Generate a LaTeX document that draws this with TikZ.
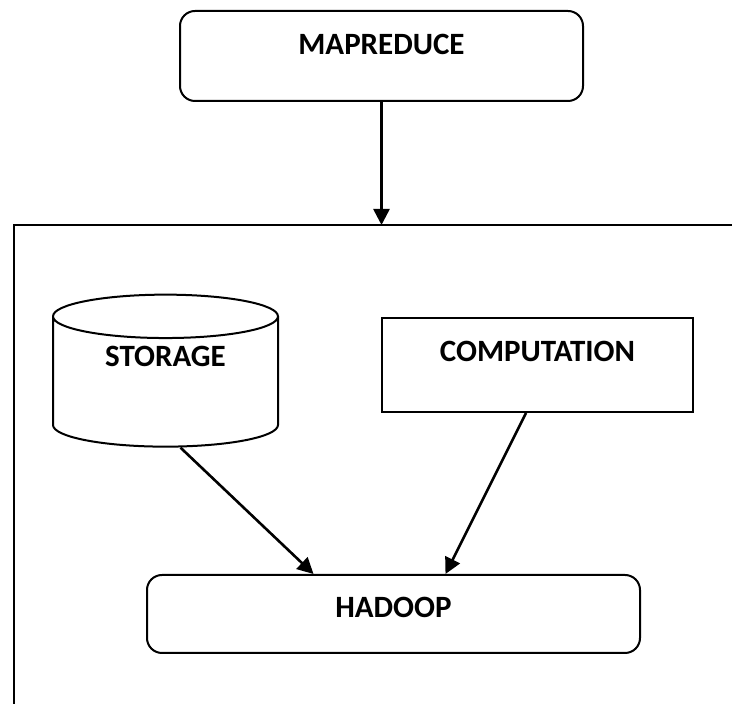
\documentclass[tikz,border=0pt]{standalone}
\usepackage{fontspec}
\setmainfont{Carlito}
\usetikzlibrary{arrows.meta,shapes.geometric}
\tikzset{
  block/.style={draw, line width=2pt, font=\fontsize{31}{37}\selectfont\bfseries, text height=20pt, inner sep=0pt},
  flow/.style={-{Triangle[length=16pt,width=16pt]}, line width=2.6pt}
}
\begin{document}
\begin{tikzpicture}[x=1pt, y=1pt]
  \clip (0,0) rectangle (732,704);
  \fill[white] (0,0) rectangle (732,704);
  %nodes
  \node[block, rounded corners=15pt, minimum width=403pt, minimum height=90pt, text depth=22pt] at (381.5,648) (mapreduce) {MAPREDUCE};
  \node[block, cylinder, shape border rotate=90, aspect=0.36, minimum width=225pt, minimum height=152pt, text depth=50pt] at (165.5,322) (storage) {STORAGE};
  \node[block, rectangle, minimum width=311pt, minimum height=94pt, text depth=26pt] at (537.5,339) (computation) {COMPUTATION};
  \node[block, rounded corners=15pt, minimum width=493pt, minimum height=78pt, text depth=12pt] at (393.5,90) (hadoop) {HADOOP};
  % outer frame, running off the page on the right and bottom
  \draw[line width=2.6pt] (14,-40) -- (14,479) -- (780,479);
  \coordinate (frametop) at (381.5,479);
  % arrows between nodes
  \draw[flow] (mapreduce) -- (frametop);
  \draw[flow] ([xshift=15pt]storage.south) -- ([xshift=-80pt]hadoop.north);
  \draw[flow] ([xshift=-11.5pt]computation.south) -- ([xshift=52pt]hadoop.north);
\end{tikzpicture}
\end{document}
